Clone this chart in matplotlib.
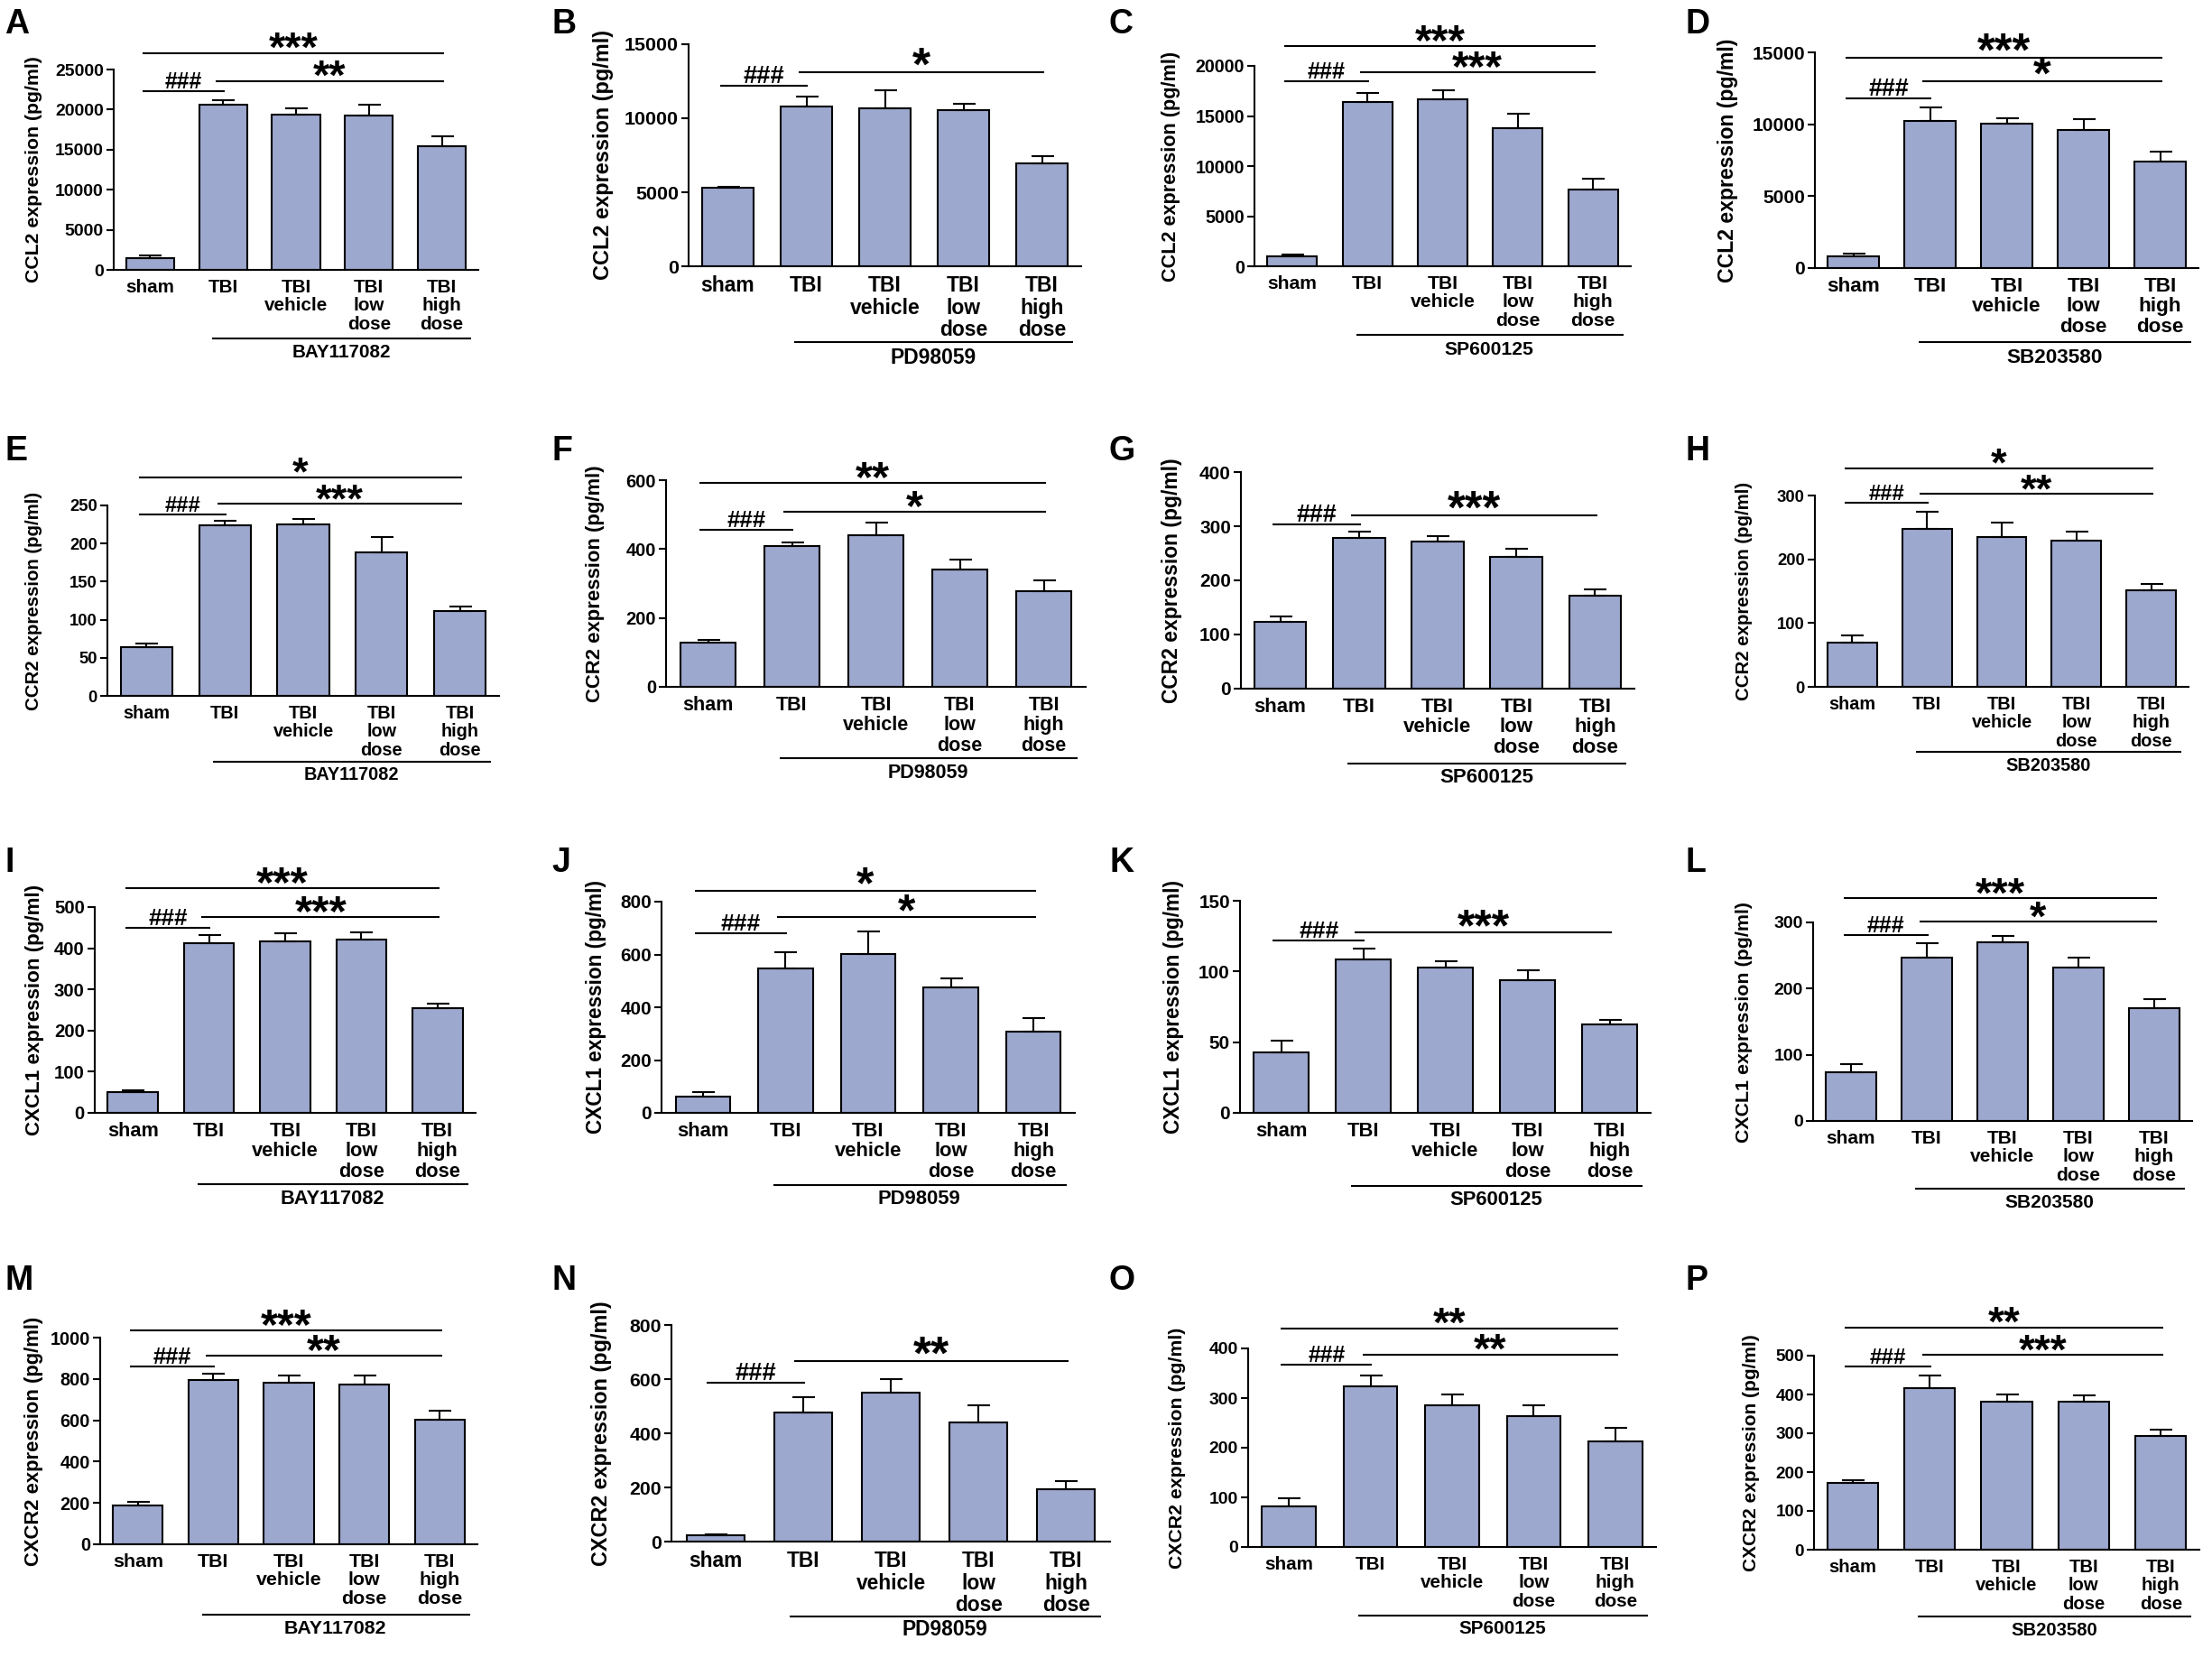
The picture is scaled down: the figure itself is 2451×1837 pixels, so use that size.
import numpy as np
import matplotlib.pyplot as plt
from matplotlib.transforms import offset_copy, blended_transform_factory

W, H = 2451, 1837
BAR_COLOR = '#9DA8CF'

plt.rcParams['font.family'] = ['Liberation Sans', 'DejaVu Sans']
plt.rcParams['font.weight'] = 'bold'
plt.rcParams['axes.labelweight'] = 'bold'

# ---- data ----
groups = ['sham', 'TBI', 'TBI\nvehicle', 'TBI\nlow\ndose', 'TBI\nhigh\ndose']
letters = 'ABCDEFGHIJKLMNOP'
markers = ['CCL2', 'CCR2', 'CXCL1', 'CXCR2']
drugs = ['BAY117082', 'PD98059', 'SP600125', 'SB203580']

ccl2_mean = [[1470, 20560, 19320, 19290, 15410],
             [5280, 10780, 10680, 10520, 6930],
             [960, 16430, 16670, 13820, 7620],
             [820, 10220, 10030, 9590, 7380]]
ccl2_err = [[370, 640, 790, 1350, 1280],
            [100, 710, 1220, 470, 530],
            [240, 900, 870, 1410, 1140],
            [210, 960, 360, 780, 690]]

ccr2_mean = [[63.7, 223.5, 225.5, 187.9, 111.6],
             [129, 409, 440, 340, 278],
             [124, 279, 271, 243, 171],
             [70, 247, 235, 229, 151]]
ccr2_err = [[5.5, 6.7, 6.3, 20.6, 5.9],
            [6, 9, 38, 29, 32],
            [9, 11, 11, 16, 13],
            [10, 28, 22, 14, 11]]

cxcl1_mean = [[50, 412, 416, 420, 255],
              [60, 548, 603, 474, 308],
              [43, 108.5, 103, 94, 62.6],
              [73, 246.5, 270, 232, 171]]
cxcl1_err = [[4, 20, 20, 18, 10],
             [17, 60, 85, 34, 52],
             [8, 7.5, 4.2, 6.6, 3.4],
             [13, 22, 10, 15, 12.7]]

cxcr2_mean = [[187, 794, 782, 773, 601],
              [22, 476, 550, 441, 192],
              [82, 324, 285, 264, 212],
              [172, 416, 381, 381, 293]]
cxcr2_err = [[17, 31, 36, 43, 47],
             [3.4, 58, 51, 62, 31],
             [16, 22, 22, 21, 28],
             [8, 32, 18, 17, 16]]

ymax = [25000, 15000, 20000, 15000, 250, 600, 400, 300,
        500, 800, 150, 300, 1000, 800, 400, 500]
ystep = [5000, 5000, 5000, 5000, 50, 200, 100, 100,
         100, 200, 50, 100, 200, 200, 100, 100]

# significance: sham->high dose, TBI->high dose, sham->TBI
sig_all = ['***', '', '***', '***', '*', '**', '', '*',
           '***', '*', '', '***', '***', '', '**', '**']
sig_trt = ['**', '*', '***', '*', '***', '*', '***', '**',
           '***', '*', '***', '*', '**', '**', '**', '***']
sig_tbi = ['###'] * 16

# ---- layout (pixels in the 2451x1837 canvas) ----
# left, right, y of zero, y of top tick
boxes = [(126, 530, 299, 77), (763, 1198, 295, 49), (1390, 1807, 295, 73), (2011, 2436, 297, 58),
         (119, 553, 771, 560), (738, 1203, 761, 532), (1375, 1811, 763, 523), (2011, 2425, 761, 549),
         (105, 527, 1233, 1005), (733, 1191, 1233, 999), (1374, 1829, 1233, 998), (2009, 2429, 1242, 1022),
         (111, 529, 1711, 1482), (744, 1230, 1708, 1468), (1383, 1835, 1714, 1494), (2010, 2437, 1717, 1502)]
lvl_all = [1.081, 0, 1.099, 0.976, 1.149, 0.988, 0, 1.142,
           1.092, 1.053, 0, 1.121, 1.036, 0, 1.101, 1.146]
lvl_trt = [0.941, 0.874, 0.967, 0.867, 1.008, 0.847, 0.80, 1.009,
           0.953, 0.927, 0.851, 1.003, 0.911, 0.833, 0.968, 1.003]
lvl_tbi = [0.894, 0.811, 0.922, 0.787, 0.953, 0.760, 0.757, 0.961,
           0.898, 0.849, 0.814, 0.936, 0.861, 0.733, 0.917, 0.944]
ylab_x = [38, 669, 1297, 1915, 38, 660, 1299, 1933,
          39, 660, 1301, 1933, 38, 666, 1305, 1941]
ylab_size = [15.3, 16.9, 15.6, 16.6, 14.7, 15.9, 16.5, 14.7,
             16.1, 16.3, 16.3, 15.4, 15.8, 16.8, 15.3, 15.0]
drug_line = [76, 84, 76, 82, 73, 79, 83, 72, 79, 80, 81, 75, 78, 83, 76, 74]
drug_text = [91, 101, 92, 100, 87, 96, 99, 87, 95, 96, 97, 91, 94, 97, 91, 89]
letter_x = [5, 611, 1229, 1868]
letter_base = [37, 510, 966, 1429]

means = ccl2_mean + ccr2_mean + cxcl1_mean + cxcr2_mean
errs = ccl2_err + ccr2_err + cxcl1_err + cxcr2_err

fig = plt.figure(figsize=(W / 100, H / 100), dpi=100)
LW = 1.5

for i in range(16):
    row, col = divmod(i, 4)
    left, right, y0, yt = boxes[i]
    ax = fig.add_axes([left / W, 1 - y0 / H, (right - left) / W, (y0 - yt) / H])
    sc = ylab_size[i] / 15.4
    top = ymax[i]
    x = np.arange(5)
    ax.bar(x, means[i], width=0.66, color=BAR_COLOR, edgecolor='black',
           linewidth=LW, zorder=2)
    ax.errorbar(x, means[i], yerr=[np.zeros(5), errs[i]], fmt='none', ecolor='black',
                elinewidth=LW, capsize=9, capthick=LW, zorder=3)
    ax.set_xlim(-0.5, 4.5)
    ax.set_ylim(0, top)
    ticks = np.arange(0, top + ystep[i] / 2, ystep[i])
    ax.set_yticks(ticks)
    ax.set_yticklabels([str(int(t)) for t in ticks], fontsize=14 * sc)
    ax.set_xticks(x)
    ax.set_xticklabels(groups, fontsize=15 * sc, linespacing=1.1)
    ax.tick_params(axis='x', length=0, pad=7)
    ax.tick_params(axis='y', length=6, width=LW, pad=2)
    for s in ['top', 'right']:
        ax.spines[s].set_visible(False)
    for s in ['left', 'bottom']:
        ax.spines[s].set_linewidth(LW)
    ax.set_ylabel('%s expression (pg/ml)' % markers[row], fontsize=ylab_size[i],
                  va='center')
    ax.yaxis.set_label_coords((ylab_x[i] - left) / (right - left), 0.5)

    # significance bars
    star_tr = offset_copy(ax.transData, fig=fig, y=-9, units='dots')
    hash_tr = offset_copy(ax.transData, fig=fig, y=3, units='dots')
    specs = [(sig_all[i], lvl_all[i], -0.1, 4.03, star_tr, 34),
             (sig_trt[i], lvl_trt[i], 0.9, 4.03, star_tr, 34),
             (sig_tbi[i], lvl_tbi[i], -0.1, 1.02, hash_tr, 18)]
    for lab, lv, xa, xb, tr, fs in specs:
        if not lab:
            continue
        yv = lv * top
        ax.plot([xa, xb], [yv, yv], color='black', lw=LW, clip_on=False,
                solid_capstyle='butt')
        ax.text((xa + xb) / 2, yv, lab, ha='center', va='baseline',
                fontsize=fs * sc, transform=tr, clip_on=False)

    # drug bracket under the treated groups
    btr = blended_transform_factory(ax.transData, ax.transAxes)
    dl = -drug_line[i] / (y0 - yt)
    dt = -drug_text[i] / (y0 - yt)
    ax.plot([0.85, 4.4], [dl, dl], color='black', lw=LW, transform=btr,
            clip_on=False, solid_capstyle='butt')
    ax.text(2.62, dt, drugs[col], ha='center', va='center', fontsize=15 * sc,
            transform=btr)

    fig.text(letter_x[col] / W, 1 - letter_base[row] / H, letters[i],
             fontsize=27, fontweight='bold', ha='left', va='baseline')

fig.savefig('out.png', dpi=100, facecolor='white')
